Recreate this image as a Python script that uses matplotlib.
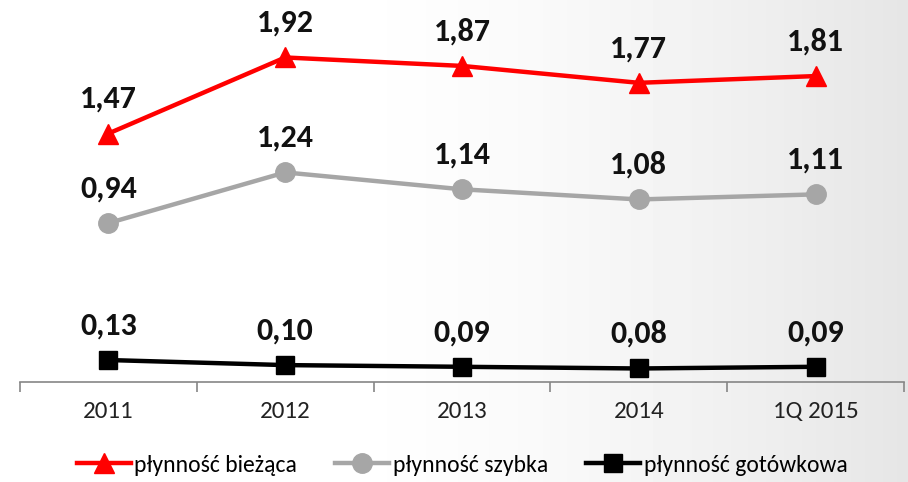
import numpy as np
import matplotlib
matplotlib.use("Agg")
import matplotlib.pyplot as plt

plt.rcParams["font.family"] = ["Carlito", "DejaVu Sans"]

categories = ["2011", "2012", "2013", "2014", "1Q 2015"]
biezaca = [1.47, 1.92, 1.87, 1.77, 1.81]
szybka = [0.94, 1.24, 1.14, 1.08, 1.11]
gotowkowa = [0.13, 0.10, 0.09, 0.08, 0.09]
labels = ["płynność bieżąca", "płynność szybka", "płynność gotówkowa"]

fig = plt.figure(figsize=(9.08, 4.82), dpi=100)

# background gradient: white on the left, light gray on the right
bg = fig.add_axes([0, 0, 1, 1], zorder=0)
xs = np.linspace(0, 1, 256)
grad = 1.0 - 0.10 * np.clip((xs - 0.35) / 0.65, 0, 1) ** 1.5
bg.imshow(np.tile(grad, (10, 1)), cmap="gray", vmin=0, vmax=1, aspect="auto",
          extent=[0, 1, 0, 1])
bg.axis("off")

ax = fig.add_axes([20 / 908, 100 / 482, 884 / 908, 382 / 482], zorder=1)
ax.patch.set_alpha(0)
x = np.arange(len(categories))

ax.plot(x, biezaca, color="#ff0000", lw=3.2, marker="^", ms=14, label=labels[0])
ax.plot(x, szybka, color="#a6a6a6", lw=3.2, marker="o", ms=14, label=labels[1])
ax.plot(x, gotowkowa, color="#000000", lw=3.2, marker="s", ms=12.5, label=labels[2])

for series in (biezaca, szybka, gotowkowa):
    for xi, v in zip(x, series):
        ax.annotate(f"{v:.2f}".replace(".", ","), (xi, v), xytext=(0, 25),
                    textcoords="offset points", ha="center", va="center",
                    fontsize=23, fontweight="bold", color="#111111")

ax.set_xlim(-0.5, len(categories) - 0.5)
ax.set_ylim(0, 2.26)
ax.set_yticks([])
for s in ("top", "right", "left"):
    ax.spines[s].set_visible(False)
ax.spines["bottom"].set_color("#868686")
ax.spines["bottom"].set_linewidth(1.2)

ax.set_xticks(x)
ax.set_xticklabels(categories, fontsize=18, color="#222222")
ax.tick_params(axis="x", which="major", length=0, pad=14)
ax.set_xticks(np.arange(len(categories) + 1) - 0.5, minor=True)
ax.tick_params(axis="x", which="minor", length=7, width=1.2, color="#868686",
               direction="out")

ax.legend(loc="lower center", bbox_to_anchor=(0.5, -0.27), ncol=3, frameon=False,
          fontsize=17, handlelength=2.3, handletextpad=0.15, columnspacing=1.6,
          borderaxespad=0)

fig.savefig("out.png", dpi=100)
